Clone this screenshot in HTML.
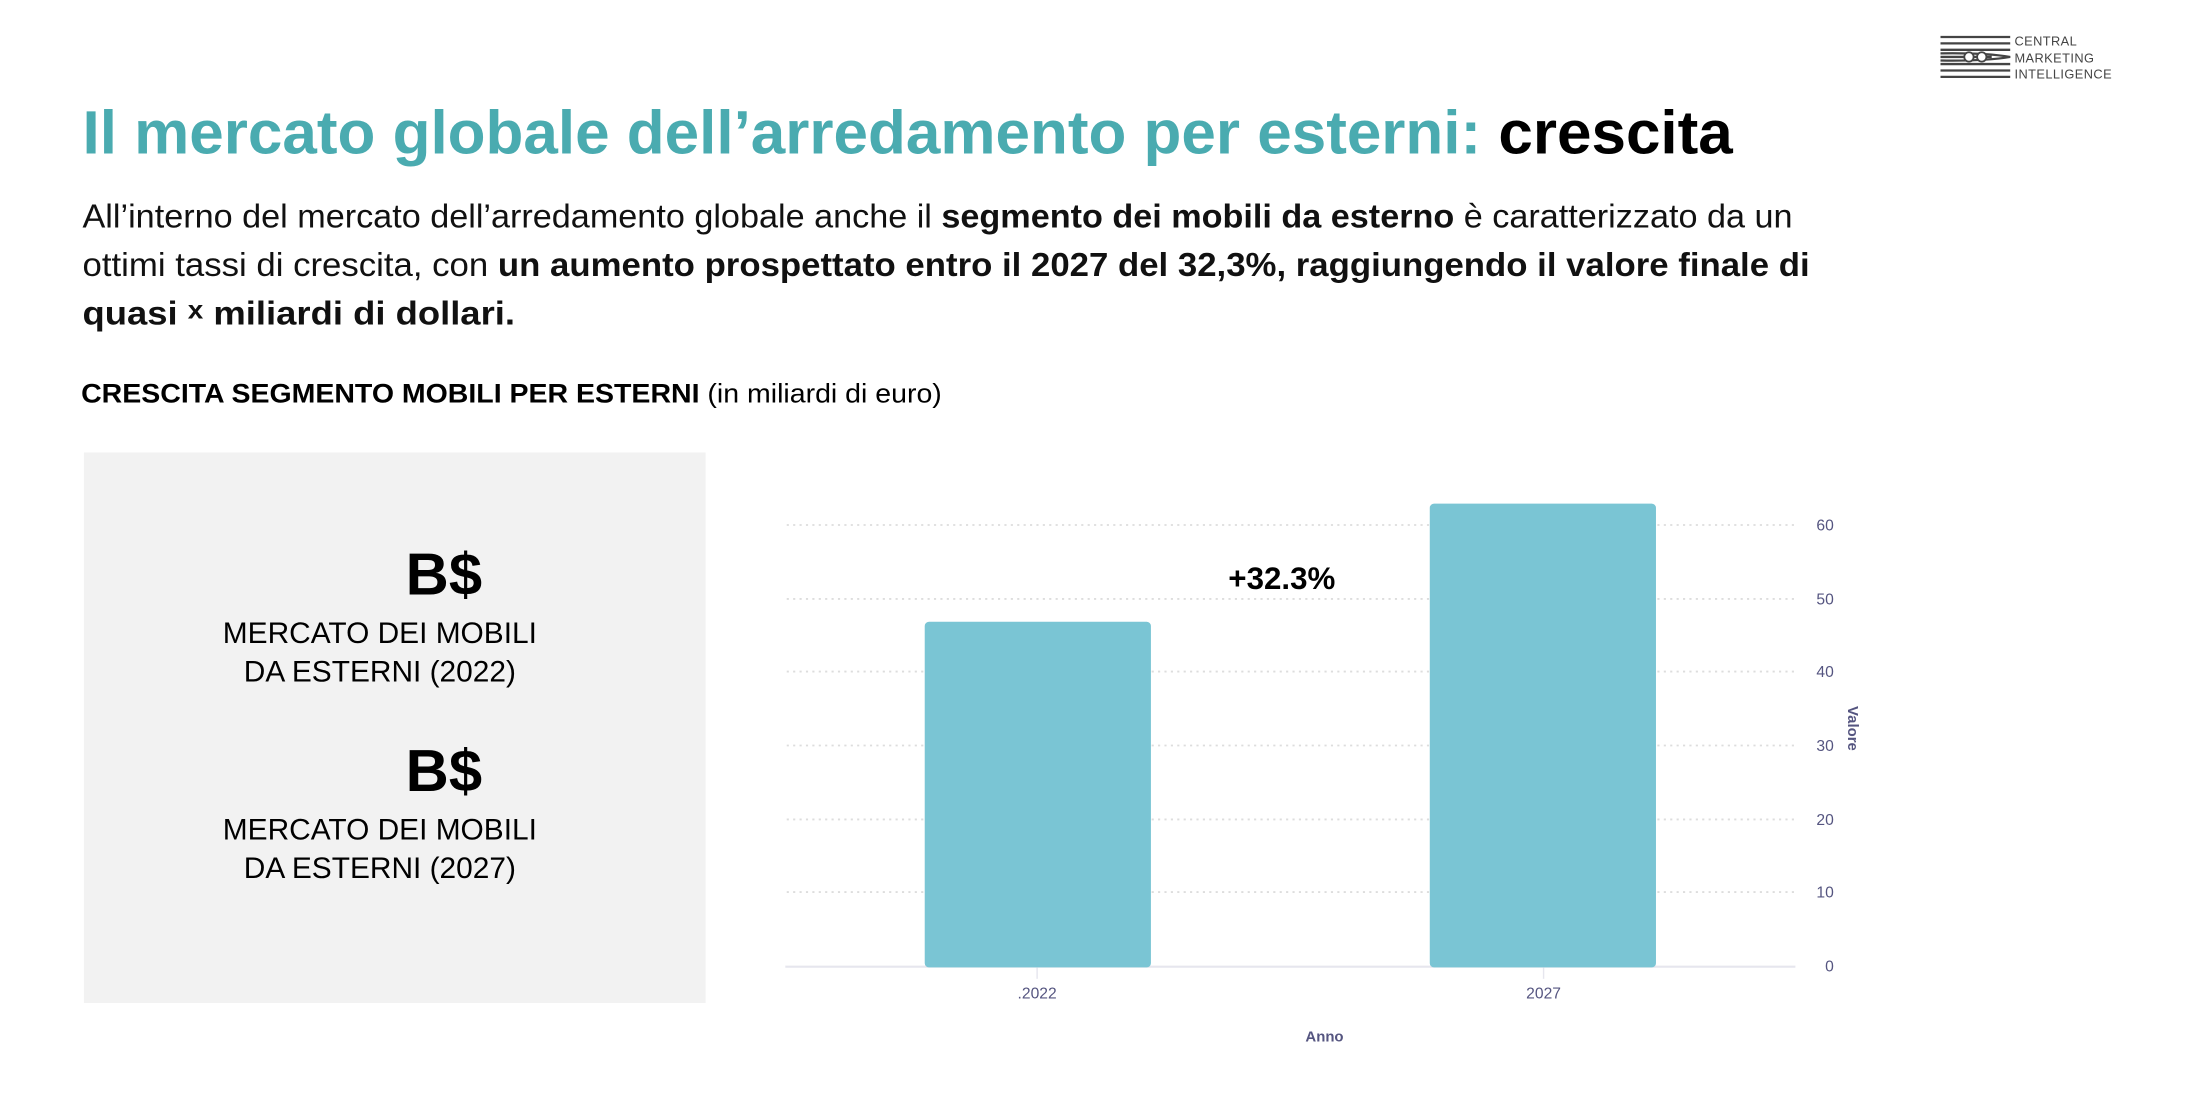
<!DOCTYPE html>
<html><head><meta charset="utf-8"><style>
html,body{margin:0;padding:0;background:#fff;}
svg{display:block;}
text{font-family:"Liberation Sans",Arial,sans-serif;}
.mono{font-family:"DejaVu Sans Mono","Liberation Mono",monospace;}
</style></head><body>
<svg width="2198" height="1114" viewBox="0 0 1545 783" xmlns="http://www.w3.org/2000/svg">
<rect width="1545" height="783" fill="#fff"/>
<g stroke="#444" stroke-width="1.6">
<line x1="1364" y1="26" x2="1413" y2="26"/>
<line x1="1364" y1="30.5" x2="1413" y2="30.5"/>
<line x1="1364" y1="35" x2="1413" y2="35"/>
<line x1="1364" y1="45" x2="1413" y2="45"/>
<line x1="1364" y1="49.5" x2="1413" y2="49.5"/>
<line x1="1364" y1="54" x2="1413" y2="54"/>
<path d="M1364 40 L1400 40 M1364 37.5 Q1395 37 1413 40 Q1395 43 1364 42.5" fill="none"/>
</g>
<circle cx="1384" cy="40" r="3.3" fill="#fff" stroke="#444" stroke-width="1.3"/>
<circle cx="1393" cy="40" r="3.3" fill="#fff" stroke="#444" stroke-width="1.3"/>
<g fill="#444" font-size="9" letter-spacing="0.3">
<text x="1416" y="32">CENTRAL</text>
<text x="1416" y="44">MARKETING</text>
<text x="1416" y="55">INTELLIGENCE</text>
</g>
<text x="58" y="108" font-size="43" font-weight="bold" fill="#4aabb0" textLength="1160" lengthAdjust="spacingAndGlyphs">Il mercato globale dell’arredamento per esterni: <tspan fill="#000">crescita</tspan></text>
<g font-size="23.5" fill="#111">
<text x="58" y="160" textLength="1202" lengthAdjust="spacingAndGlyphs">All’interno del mercato dell’arredamento globale anche il <tspan font-weight="bold">segmento dei mobili da esterno</tspan> è caratterizzato da un</text>
<text x="58" y="194" textLength="1214" lengthAdjust="spacingAndGlyphs">ottimi tassi di crescita, con <tspan font-weight="bold">un aumento prospettato entro il 2027 del 32,3%, raggiungendo il valore finale di</tspan></text>
<text x="58" y="228" font-weight="bold" textLength="304" lengthAdjust="spacingAndGlyphs">quasi <tspan font-size="18" dy="-4">x</tspan><tspan dy="4">  miliardi di dollari.</tspan></text>
</g>
<text x="57" y="283" font-size="19" font-weight="bold" fill="#000" textLength="605" lengthAdjust="spacingAndGlyphs">CRESCITA SEGMENTO MOBILI PER ESTERNI <tspan font-weight="normal">(in miliardi di euro)</tspan></text>
<rect x="59" y="318" width="437" height="387" fill="#f2f2f2"/>
<g text-anchor="middle" fill="#000">
<text x="312" y="418" font-size="42" font-weight="bold">B$</text>
<text x="267" y="452" font-size="21">MERCATO DEI MOBILI</text>
<text x="267" y="479" font-size="21">DA ESTERNI (2022)</text>
<text x="312" y="556" font-size="42" font-weight="bold">B$</text>
<text x="267" y="590" font-size="21">MERCATO DEI MOBILI</text>
<text x="267" y="617" font-size="21">DA ESTERNI (2027)</text>
</g>
<g stroke="#ddd" stroke-width="1.3" stroke-dasharray="1.5 3">
<line x1="553" y1="369" x2="1262" y2="369"/>
<line x1="553" y1="421" x2="1262" y2="421"/>
<line x1="553" y1="472" x2="1262" y2="472"/>
<line x1="553" y1="524" x2="1262" y2="524"/>
<line x1="553" y1="576" x2="1262" y2="576"/>
<line x1="553" y1="627" x2="1262" y2="627"/>
</g>
<line x1="552" y1="679.5" x2="1262" y2="679.5" stroke="#e6e6ee" stroke-width="1.5"/>
<line x1="729" y1="680" x2="729" y2="688" stroke="#e6e6ee"/>
<line x1="1085" y1="680" x2="1085" y2="688" stroke="#e6e6ee"/>
<rect x="650" y="437" width="159" height="243" rx="3" fill="#7ac5d4"/>
<rect x="1005" y="354" width="159" height="326" rx="3" fill="#7ac5d4"/>
<text x="901" y="414" font-size="22" font-weight="bold" text-anchor="middle" fill="#000">+32.3%</text>
<g class="mono" font-size="11" fill="#555580" text-anchor="end">
<text x="1289" y="373">60</text>
<text x="1289" y="425">50</text>
<text x="1289" y="476">40</text>
<text x="1289" y="528">30</text>
<text x="1289" y="580">20</text>
<text x="1289" y="631">10</text>
<text x="1289" y="683">0</text>
</g>
<text x="1299" y="512" font-size="10.5" font-weight="bold" fill="#555580" text-anchor="middle" transform="rotate(90 1299 512)">Valore</text>
<g font-size="11" fill="#555580" text-anchor="middle">
<text x="729" y="702">.2022</text>
<text x="1085" y="702">2027</text>
<text x="931" y="732" font-weight="bold" font-size="10.5">Anno</text>
</g>
</svg>
</body></html>
